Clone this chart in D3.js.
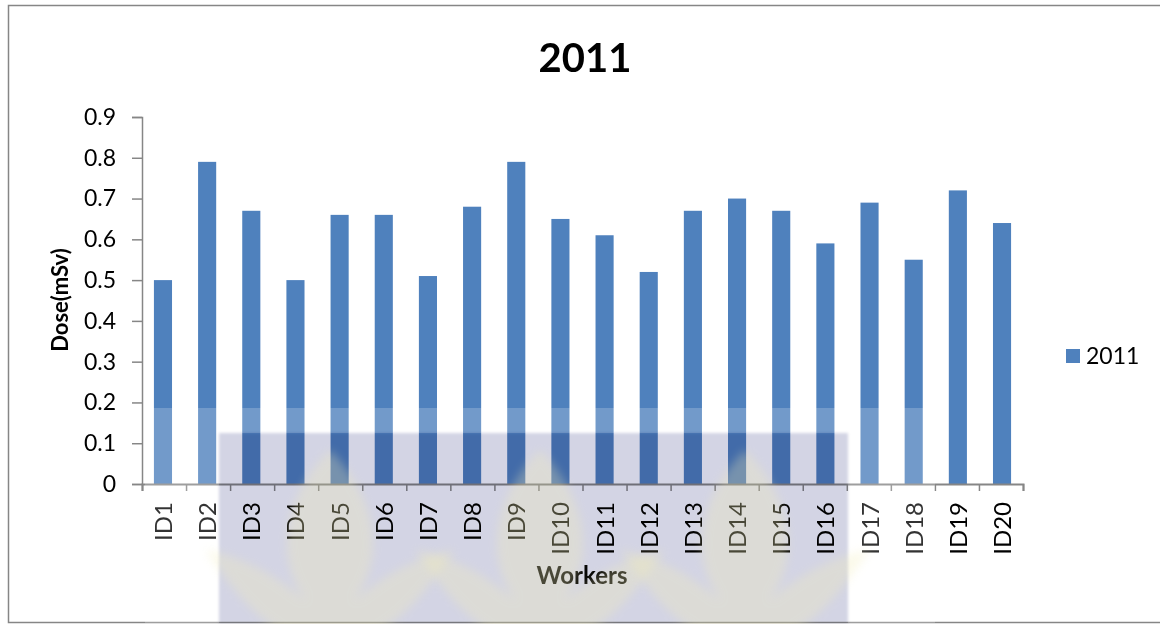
<!DOCTYPE html>
<html>
<head>
<meta charset="utf-8">
<script src="https://cdn.jsdelivr.net/npm/d3@7/dist/d3.min.js"></script>
<style>
  body { margin: 0; background: #fff; }
  svg { display: block; font-family: Lato, "Open Sans", sans-serif; }
</style>
</head>
<body>
<div id="chart"></div>
<script>
// data
const workers = ["ID1", "ID2", "ID3", "ID4", "ID5", "ID6", "ID7", "ID8", "ID9", "ID10",
                 "ID11", "ID12", "ID13", "ID14", "ID15", "ID16", "ID17", "ID18", "ID19", "ID20"];
const dose2011 = [0.50, 0.79, 0.67, 0.50, 0.66, 0.66, 0.51, 0.68, 0.79, 0.65,
                  0.61, 0.52, 0.67, 0.70, 0.67, 0.59, 0.69, 0.55, 0.72, 0.64];
const yTicks = [0, 0.1, 0.2, 0.3, 0.4, 0.5, 0.6, 0.7, 0.8, 0.9];
const seriesName = "2011";

const width = 1160, height = 624;
const margin = { left: 142, right: 137, top: 117, bottom: 140 };
const axisColor = "#868686";
const barColor = "#4F81BD";

const svg = d3.select("#chart").append("svg")
    .attr("width", width)
    .attr("height", height);

// outer chart frame
svg.append("rect")
    .attr("x", 8.5).attr("y", 5.5)
    .attr("width", width).attr("height", 617)
    .attr("fill", "#fff")
    .attr("stroke", axisColor)
    .attr("stroke-width", 1.5);

const x = d3.scaleBand()
    .domain(workers)
    .range([margin.left, width - margin.right])
    .paddingInner(0.59)
    .paddingOuter(0.27);

const xEdges = d3.scaleLinear()
    .domain([0, workers.length])
    .range([margin.left, width - margin.right]);

const y = d3.scaleLinear()
    .domain([0, 0.9])
    .range([height - margin.bottom, margin.top]);

// bars
svg.append("g")
    .selectAll("rect")
    .data(dose2011)
    .join("rect")
    .attr("x", (d, i) => x(workers[i]))
    .attr("y", d => y(d))
    .attr("width", x.bandwidth())
    .attr("height", d => y(0) - y(d))
    .attr("fill", barColor);

// y axis
const yAxis = svg.append("g")
    .attr("transform", `translate(${margin.left},0)`)
    .call(d3.axisLeft(y)
        .tickValues(yTicks)
        .tickSize(10)
        .tickPadding(16)
        .tickFormat(d => d === 0 ? "0" : d3.format(".1f")(d)));
yAxis.select(".domain").attr("stroke", axisColor).attr("stroke-width", 1.5);
yAxis.selectAll(".tick line").attr("stroke", axisColor).attr("stroke-width", 1.5);
yAxis.selectAll(".tick text")
    .attr("fill", "#000")
    .style("font-size", "23px")
    .style("font-family", "Lato, sans-serif");

// x axis: ticks between categories
const xAxis = svg.append("g")
    .attr("transform", `translate(0,${y(0)})`)
    .call(d3.axisBottom(xEdges)
        .tickValues(d3.range(workers.length + 1))
        .tickSize(7)
        .tickSizeOuter(7)
        .tickFormat(""));
xAxis.select(".domain").attr("stroke", axisColor).attr("stroke-width", 2);
xAxis.selectAll(".tick line").attr("stroke", axisColor).attr("stroke-width", 1.5);

// category labels, rotated
svg.append("g")
    .selectAll("text")
    .data(workers)
    .join("text")
    .attr("transform", d => `translate(${x(d) + x.bandwidth() / 2 + 9},${y(0) + 18}) rotate(-90)`)
    .attr("text-anchor", "end")
    .style("font-size", "24px")
    .attr("fill", "#000")
    .text(d => d);

// title
svg.append("text")
    .attr("x", 585).attr("y", 72)
    .attr("text-anchor", "middle")
    .style("font-size", "40px")
    .style("font-weight", "bold")
    .text(seriesName);

// axis titles
svg.append("text")
    .attr("transform", `translate(68,300) rotate(-90)`)
    .attr("text-anchor", "middle")
    .style("font-size", "22px")
    .style("font-weight", "bold")
    .text("Dose(mSv)");

svg.append("text")
    .attr("x", 582).attr("y", 584)
    .attr("text-anchor", "middle")
    .style("font-size", "24px")
    .style("font-weight", "bold")
    .text("Workers");

// legend
const legend = svg.append("g").attr("transform", "translate(1066,349)");
legend.append("rect")
    .attr("width", 14).attr("height", 14)
    .attr("fill", barColor);
legend.append("text")
    .attr("x", 20).attr("y", 15)
    .style("font-size", "23px")
    .text(seriesName);

// scanned-page watermark sitting over the chart
const defs = svg.append("defs");
defs.append("filter").attr("id", "soft")
    .append("feGaussianBlur").attr("stdDeviation", 1.5);
defs.append("filter").attr("id", "blurry")
    .append("feGaussianBlur").attr("stdDeviation", 5);

const wm = svg.append("g").attr("class", "watermark").style("pointer-events", "none");
wm.append("rect")
    .attr("x", 145).attr("y", 408).attr("width", 790).attr("height", 25)
    .attr("fill", "#fff").attr("opacity", 0.2);
wm.append("rect")
    .attr("x", 145).attr("y", 433).attr("width", 74).attr("height", 190)
    .attr("fill", "#fff").attr("opacity", 0.2);
wm.append("rect")
    .attr("x", 848).attr("y", 433).attr("width", 87).attr("height", 190)
    .attr("fill", "#fff").attr("opacity", 0.2);
wm.append("rect")
    .attr("x", 219).attr("y", 433).attr("width", 629).attr("height", 190)
    .attr("fill", "#d3d4e4")
    .attr("filter", "url(#soft)")
    .style("mix-blend-mode", "multiply");

const flame = (cx, tip) => `M${cx},${tip}
    C${cx + 40},${tip + 40} ${cx + 60},${tip + 100} ${cx + 25},${tip + 150}
    C${cx + 60},${tip + 120} ${cx + 95},${tip + 105} ${cx + 125},${tip + 100}
    C${cx + 95},${tip + 140} ${cx + 70},${tip + 185} ${cx},${tip + 200}
    C${cx - 70},${tip + 185} ${cx - 95},${tip + 140} ${cx - 125},${tip + 100}
    C${cx - 95},${tip + 105} ${cx - 60},${tip + 120} ${cx - 25},${tip + 150}
    C${cx - 60},${tip + 100} ${cx - 40},${tip + 40} ${cx},${tip} Z`;
wm.selectAll("path")
    .data([330, 540, 745])
    .join("path")
    .attr("d", d => flame(d, 450))
    .attr("fill", "#f2edb8")
    .attr("opacity", 0.3)
    .attr("filter", "url(#blurry)");
</script>
</body>
</html>
